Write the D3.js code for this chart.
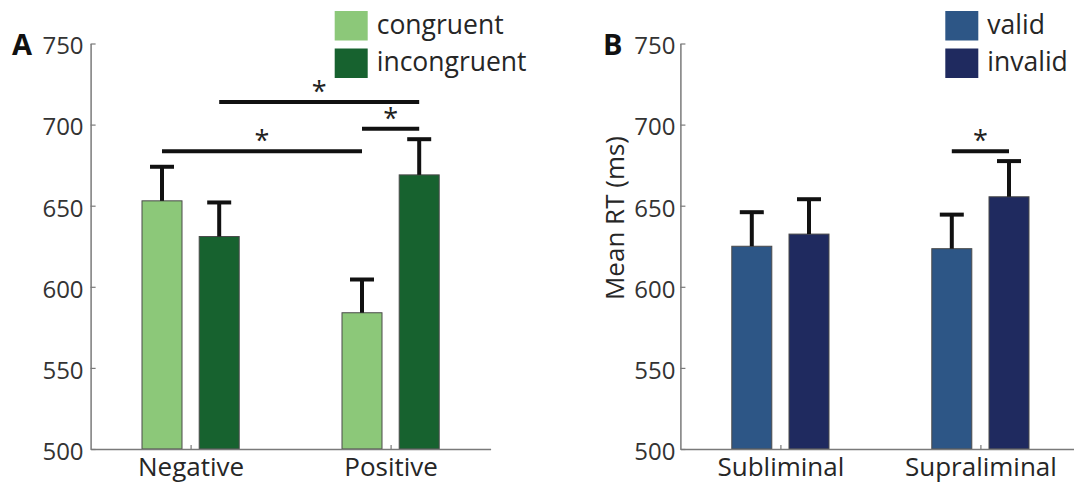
<!DOCTYPE html>
<html>
<head>
<meta charset="utf-8">
<script src="https://cdn.jsdelivr.net/npm/d3@7"></script>
<style>
  html, body { margin: 0; padding: 0; background: #fff; }
  svg { display: block; font-family: "Open Sans", "Noto Sans", sans-serif; }
</style>
</head>
<body>
<svg id="chart" width="1074" height="484"></svg>
<script>
// ---- data ----
const yTicks = [500, 550, 600, 650, 700, 750];

// Panel A: emotional valence x congruency
const categoriesA = ["Negative", "Positive"];
const seriesA = ["congruent", "incongruent"];
const congruentMean = [653, 584];
const congruentErr = [21, 20.5];
const incongruentMean = [631, 669];
const incongruentErr = [21, 22];
// significance brackets: [category, series] -> [category, series] at a level (ms)
const sigA = [
  { from: [0, 0], to: [1, 0], level: 683.5 },
  { from: [0, 1], to: [1, 1], level: 714 },
  { from: [1, 0], to: [1, 1], level: 697.5 }
];

// Panel B: awareness x cue validity
const categoriesB = ["Subliminal", "Supraliminal"];
const seriesB = ["valid", "invalid"];
const validMean = [625, 623.5];
const validErr = [21, 21];
const invalidMean = [632.5, 655.5];
const invalidErr = [21.5, 22];
const sigB = [
  { from: [1, 0], to: [1, 1], level: 683.5 }
];

const colorsA = ["#8cc879", "#17622f"];
const colorsB = ["#2d5686", "#1f2a5f"];

// ---- drawing ----
const svg = d3.select("#chart");
const yTop = 43.5, yBottom = 449;

const y = d3.scaleLinear().domain([500, 750]).range([yBottom, yTop]);

function drawPanel(opt) {
  const g = svg.append("g");
  const x = d3.scaleLinear().domain([0.5, 2.5]).range([opt.x0, opt.x0 + 400]);
  const offsets = [-0.143, 0.143];
  const bw = x(0.7) - x(0.5);
  const barX = (ci, si) => x(ci + 1 + offsets[si]);

  // bars
  const rows = [];
  opt.means.forEach((arr, si) => arr.forEach((v, ci) => {
    rows.push({ ci, si, v, e: opt.errs[si][ci] });
  }));

  g.selectAll("rect.bar").data(rows).join("rect")
    .attr("class", "bar")
    .attr("x", d => barX(d.ci, d.si) - bw / 2)
    .attr("width", bw)
    .attr("y", d => y(d.v))
    .attr("height", d => y(500) - y(d.v))
    .attr("fill", d => opt.colors[d.si])
    .attr("stroke", "#4a4a4a")
    .attr("stroke-width", 1);

  // error bars (upper half only)
  g.selectAll("line.err").data(rows).join("line")
    .attr("class", "err")
    .attr("x1", d => barX(d.ci, d.si)).attr("x2", d => barX(d.ci, d.si))
    .attr("y1", d => y(d.v)).attr("y2", d => y(d.v + d.e))
    .attr("stroke", "#111").attr("stroke-width", 4);
  g.selectAll("line.cap").data(rows).join("line")
    .attr("class", "cap")
    .attr("x1", d => barX(d.ci, d.si) - 12).attr("x2", d => barX(d.ci, d.si) + 12)
    .attr("y1", d => y(d.v + d.e)).attr("y2", d => y(d.v + d.e))
    .attr("stroke", "#111").attr("stroke-width", 4);

  // axes
  const yAxis = d3.axisLeft(y).tickValues(yTicks).tickSize(-5).tickSizeOuter(0).tickPadding(opt.tickPad);
  const ya = g.append("g").attr("transform", `translate(${opt.x0},0)`).call(yAxis);
  ya.select(".domain").attr("stroke", "#7a7a7a").attr("stroke-width", 1.5);
  ya.selectAll(".tick line").attr("stroke", "#7a7a7a").attr("stroke-width", 1.2);
  ya.selectAll(".tick text")
    .attr("font-size", 24).attr("fill", "#333").attr("dy", "0.43em")
    .style("font-family", "'Open Sans', sans-serif");

  const xAxis = d3.axisBottom(x).tickValues([1, 2]).tickSize(-4).tickSizeOuter(0)
    .tickFormat(d => opt.categories[d - 1]);
  const xa = g.append("g").attr("transform", `translate(0,${yBottom})`).call(xAxis);
  xa.select(".domain").attr("stroke", "#7a7a7a").attr("stroke-width", 1.5);
  xa.selectAll(".tick line").attr("stroke", "#7a7a7a").attr("stroke-width", 1.2);
  xa.selectAll(".tick text")
    .attr("font-size", 26).attr("fill", "#262626").attr("dy", null).attr("y", 26.5)
    .style("font-family", "'Open Sans', sans-serif");

  // significance brackets
  opt.sig.forEach(s => {
    const xa1 = barX(s.from[0], s.from[1]);
    const xa2 = barX(s.to[0], s.to[1]);
    g.append("line")
      .attr("x1", xa1).attr("x2", xa2)
      .attr("y1", y(s.level)).attr("y2", y(s.level))
      .attr("stroke", "#111").attr("stroke-width", 4);
    g.append("text")
      .attr("x", (xa1 + xa2) / 2).attr("y", y(s.level) - 1)
      .attr("text-anchor", "middle").attr("font-size", 27).attr("fill", "#222")
      .text("*");
  });

  // legend
  const lg = g.append("g");
  opt.series.forEach((name, si) => {
    lg.append("rect")
      .attr("x", opt.legendX).attr("y", 11 + si * 37.5)
      .attr("width", 33).attr("height", 29.5)
      .attr("fill", opt.colors[si]);
    lg.append("text")
      .attr("x", opt.legendX + 42).attr("y", 34 + si * 37)
      .attr("font-size", 26.5).attr("fill", "#262626")
      .text(name);
  });

  // panel letter
  g.append("text")
    .attr("x", opt.letterX).attr("y", 55)
    .attr("font-size", 29).attr("font-weight", 700).attr("fill", "#111")
    .text(opt.letter);
}

drawPanel({
  x0: 90.6, categories: categoriesA, series: seriesA,
  means: [congruentMean, incongruentMean], errs: [congruentErr, incongruentErr],
  colors: colorsA, sig: sigA, legendX: 334.7, letter: "A", letterX: 12, tickPad: 7
});

drawPanel({
  x0: 680.4, categories: categoriesB, series: seriesB,
  means: [validMean, invalidMean], errs: [validErr, invalidErr],
  colors: colorsB, sig: sigB, legendX: 945.3, letter: "B", letterX: 603, tickPad: 5
});

// y-axis title for panel B
svg.append("text")
  .attr("transform", "translate(624,218) rotate(-90)")
  .attr("text-anchor", "middle").attr("font-size", 26).attr("fill", "#262626")
  .text("Mean RT (ms)");
</script>
</body>
</html>
